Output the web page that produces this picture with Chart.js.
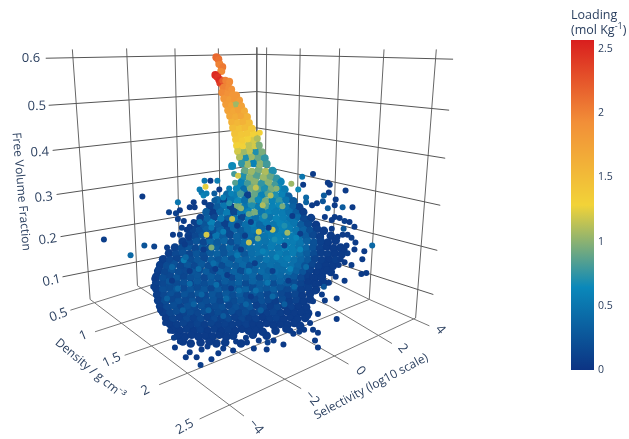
<!DOCTYPE html>
<html>
<head>
<meta charset="utf-8">
<style>
  html, body { margin:0; padding:0; background:#fff; width:629px; height:439px; overflow:hidden; }
  #scene { position:absolute; left:0; top:0; }
  #bar { position:absolute; left:571px; top:0; }
  #barTitle { position:absolute; left:571px; top:7px; font:12.5px/15px "Open Sans",sans-serif; color:#2a3f5f; white-space:nowrap; }
</style>
</head>
<body>
<canvas id="scene" width="629" height="439"></canvas>
<canvas id="bar" width="58" height="439"></canvas>
<div id="barTitle">Loading<br>(mol Kg<sup style="font-size:9px;line-height:0">-1</sup>)</div>
<script src="https://cdn.jsdelivr.net/npm/chart.js@4/dist/chart.umd.min.js"></script>
<script>
// the plot is a flat view of a 3D scene, so everything is read in picture-plane units
const fvfTicks = ['0.1','0.2','0.3','0.4','0.5','0.6'];
const densityTicks = ['0.5','1','1.5','2','2.5'];
const selectivityTicks = ['\u22124','\u22122','0','2','4'];
const loadingTicks = [0, 0.5, 1, 1.5, 2, 2.5];
const loadingMax = 2.57;

// [x, y, loading]
const tailPoints = [
[215,54,2.15],[217,56,2.1],[218,61,2.0],[221,64,2.05],[220,68,1.95],
[214,72,2.5],[216,74,2.45],[218,77,2.5],[219,80,2.4],[221,78,2.2],
[224,78,2.0],[228,79,1.95],[222,84,2.0],[227,85,1.95],[230,87,1.9],
[221,90,1.95],[226,91,1.9],[231,92,1.85],[235,93,1.85],
[223,96,1.85],[228,97,1.8],[233,97,1.85],[238,98,1.8],
[225,102,1.8],[230,103,1.75],[235,102,1.05],[240,104,1.75],
[227,108,1.75],[232,109,1.7],[237,108,1.75],[243,109,1.65],
[229,114,1.7],[234,115,1.65],[240,114,1.7],[246,115,1.6],
[231,120,1.6],[236,121,1.55],[242,120,1.6],[248,121,1.5],
[232,126,1.5],[238,127,1.45],[244,126,1.5],[251,127,1.4],
[234,132,1.45],[240,133,1.4],[246,132,1.4],[253,133,1.3],
[235,138,1.4],[241,139,1.35],[247,138,1.3],[253,139,1.2],[256,137,1.1],
[236,144,1.3],[242,145,1.3],[248,144,1.15],[254,145,1.2],[258,144,.95],
[237,150,1.2],[243,151,1.05],[249,150,1.15],[255,151,.7],[261,151,.95],
[239,156,1.1],[245,157,.7],[251,156,1.05],[257,157,.9],[264,157,.75],
[241,162,.75],[247,163,1.05],[253,162,.6],[259,163,1.0],[266,163,.8],[231,165,.65]
];

const strayPoints = [
[101,240,.08],[140,196,.06],[128,256,.4],[142,246,.25],[152,247,.12],[165,248,.08],
[176,202,.5],[167,212,.1],[174,213,.1],[178,210,.06],[176,219,.08],[182,221,.06],
[192,222,.08],[171,235,.06],[178,235,.08],[180,228,.1],[185,230,.06],[188,227,.06],
[187,238,.06],[183,245,.06],[192,202,.06],[188,207,.06],[193,207,.06],[203,202,.06],
[207,205,.1],[203,180,.5],[209,180,.06],[216,180,.55],[204,186,1.25],[198,189,.55],
[200,192,.5],[202,195,.6],[205,193,.55],[213,193,.3],[218,189,.06],[228,188,.55],
[230,193,.6],[213,200,.3],[222,197,.55],[233,173,.8],[237,175,1.2],[234,182,.85],
[259,131,1.3],[313,173,.06],[302,176,.5],[291,183,1.05],[303,184,.06],[298,189,.65],
[328,182,.06],[330,184,.06],[346,190,.06],[329,192,.06],[324,195,.3],[306,197,.4],
[306,202,.35],[336,199,.06],[323,201,.25],[317,203,.06],[312,205,.06],[335,205,.06],
[343,207,.3],[353,207,.06],[328,208,.3],[335,217,.06],[340,218,.06],[345,221,.1],
[350,222,.06],[355,227,.06],[325,217,.06],[332,220,.06],[344,229,.25],[332,229,.06],
[323,232,.06],[348,235,.06],[352,238,.08],[356,243,.06],[373,246,.4],[343,235,.06],
[338,237,.06],[347,246,.06],[365,252,.06],[355,250,.06],[348,254,.08],[363,260,.06],
[345,263,.06],[362,275,.06],[367,274,.06],[345,282,.06],[324,288,.25],[319,285,.06],
[315,293,.06],[325,302,.06],[337,300,.06],[337,321,.06],[318,335,.06],[315,343,.06],
[318,350,.06],[313,332,.06],[304,332,.06],[310,325,.06],[299,334,.06],[293,336,.06],
[283,347,.06],[273,343,.06],[266,352,.06],[253,351,.06],[267,345,.1],[258,343,.06],
[245,340,.06],[235,344,.06],[232,353,.06],[184,360,.06],[199,368,.08],[210,362,.06],
[217,356,.06],[195,360,.06],[188,355,.06],[200,352,.06],[173,350,.06],[172,340,.08],
[341,260,.06],[352,266,.06],[336,278,.06],[329,284,.06],[322,296,.06],[318,316,.06]
];

const upperBody = [
[244,170,.9],[251,171,1.05],[258,169,.95],[265,171,1.1],[272,170,.7],
[242,176,.7],[249,177,1.0],[256,175,.85],[263,177,1.05],[270,176,.9],[276,178,.75],
[240,182,.6],[247,183,.8],[254,181,1.0],[261,183,.75],[268,182,1.0],[275,184,.8],[280,181,.6],
[236,188,.65],[243,189,.45],[250,187,.95],[257,189,.85],[264,188,.7],[271,189,.95],[278,187,.65],[284,189,.55],
[226,194,.4],[233,195,.55],[240,193,.8],[247,195,.1],[254,194,.9],[261,195,.6],[268,193,.85],[275,195,.7],[282,194,.6],[288,196,.35],
[216,200,.4],[223,201,.1],[230,199,.5],[237,201,.65],[244,200,.45],[251,201,.9],[258,199,.65],[265,201,.95],[272,200,.6],[279,201,.75],[286,199,.5],[293,201,.3],
[209,206,.08],[216,207,.3],[223,205,.5],[230,207,.1],[237,206,.95],[244,207,.5],[251,205,.7],[258,207,.55],[265,206,.85],[272,207,.6],[279,205,.65],[286,207,.5],[293,206,.35],[299,207,.1],
[205,212,.3],[212,213,.06],[219,211,.4],[226,213,.55],[233,212,.15],[240,213,.5],[247,211,.6],[254,213,.95],[261,212,.5],[268,213,.6],[275,211,.55],[282,213,.55],[289,212,.45],[296,213,.3],[303,212,.08],
[199,218,.08],[206,219,.35],[213,217,.15],[220,219,.5],[227,218,.3],[234,219,.45],[241,217,.15],[248,219,.55],[255,218,.45],[262,219,.6],[269,217,.5],[276,219,.6],[283,218,.55],[290,219,.5],[297,217,.4],[304,219,.15],[311,218,.08],
[196,224,.1],[203,225,.25],[210,223,.6],[217,225,.3],[224,224,.1],[231,225,.4],[238,223,.3],[245,225,.45],[252,224,.55],[259,225,.4],[266,223,.55],[273,225,.5],[280,224,.6],[287,225,.55],[294,223,.5],[301,225,.3],[308,224,.15],[316,225,.06],
[191,230,.12],[198,231,.2],[205,229,.3],[212,231,.2],[219,230,.35],[226,231,.15],[233,229,.4],[240,231,.3],[247,230,.45],[254,231,.5],[261,229,.4],[268,231,.55],[275,230,.5],[282,231,.6],[289,229,.55],[296,231,.5],[303,230,.35],[310,231,.2],[317,229,.08],[324,231,.06],
[187,236,.08],[194,237,.15],[201,235,.25],[208,237,.12],[215,236,.5],[222,237,.3],[229,235,.15],[236,237,.35],[243,236,.3],[250,237,.45],[257,235,.4],[264,237,.5],[271,236,.55],[278,237,.6],[285,235,.55],[292,237,.55],[299,236,.45],[306,237,.3],[313,235,.15],[320,237,.08],[331,236,.06],
[181,242,.08],[188,243,.15],[195,241,.25],[202,243,.15],[209,242,.4],[216,243,.3],[223,241,.38],[230,243,.2],[237,242,.35],[244,243,.42],[251,241,.4],[258,243,.5],[265,242,.48],[272,243,.55],[279,241,.6],[286,243,.55],[293,242,.55],[300,243,.5],[307,241,.35],[314,243,.22],[321,242,.1],[328,243,.06],[336,241,.06]
];

const lowerBody = [
[173,248,.1],[180,249,.18],[187,247,.25],[194,249,.16],[201,248,.28],[208,249,.2],[215,247,.35],[222,249,.25],[229,248,.4],[236,249,.22],[243,247,.4],[250,249,.45],[257,248,.48],[264,249,.44],[271,247,.55],[278,249,.5],[285,248,.6],[292,249,.55],[299,247,.48],[306,249,.38],[313,248,.22],[320,249,.1],[327,247,.06],[334,249,.06],[341,248,.06],
[167,254,.08],[174,255,.16],[181,253,.22],[188,255,.14],[195,254,.26],[202,255,.18],[209,253,.3],[216,255,.35],[223,254,.24],[230,255,.36],[237,253,.4],[244,255,.28],[251,254,.44],[258,255,.48],[265,253,.52],[272,255,.48],[279,254,.55],[286,255,.5],[293,253,.55],[300,255,.42],[307,254,.32],[314,255,.18],[321,253,.08],[328,255,.08],[335,254,.06],[342,255,.06],
[161,260,.08],[168,261,.15],[175,259,.12],[182,261,.22],[189,260,.18],[196,261,.26],[203,259,.16],[210,261,.32],[217,260,.26],[224,261,.36],[231,259,.22],[238,261,.4],[245,260,.35],[252,261,.44],[259,259,.4],[266,261,.5],[273,260,.46],[280,261,.5],[287,259,.55],[294,261,.46],[301,260,.38],[308,261,.28],[315,259,.12],[322,261,.08],[329,260,.06],[336,261,.08],
[158,266,.08],[165,267,.18],[172,265,.22],[179,267,.14],[186,266,.25],[193,267,.16],[200,265,.28],[207,267,.2],[214,266,.34],[221,267,.18],[228,265,.35],[235,267,.3],[242,266,.4],[249,267,.22],[256,265,.42],[263,267,.4],[270,266,.46],[277,267,.42],[284,265,.5],[291,267,.46],[298,266,.38],[305,267,.24],[312,265,.14],[319,267,.08],[326,266,.06],[333,267,.06],
[156,272,.08],[163,273,.14],[170,271,.24],[177,273,.18],[184,272,.16],[191,273,.26],[198,271,.2],[205,273,.3],[212,272,.16],[219,273,.34],[226,271,.26],[233,273,.36],[240,272,.18],[247,273,.4],[254,271,.35],[261,273,.42],[268,272,.35],[275,273,.44],[282,271,.42],[289,273,.46],[296,272,.34],[303,273,.24],[310,271,.1],[317,273,.06],[324,272,.06],[331,273,.06],
[154,278,.08],[161,279,.2],[168,277,.16],[175,279,.25],[182,278,.14],[189,279,.22],[196,277,.26],[203,279,.16],[210,278,.3],[217,279,.24],[224,277,.34],[231,279,.16],[238,278,.35],[245,279,.3],[252,277,.38],[259,279,.2],[266,278,.4],[273,279,.34],[280,277,.4],[287,279,.34],[294,278,.28],[301,279,.16],[308,277,.08],[315,279,.06],[322,278,.06],
[154,284,.1],[161,285,.16],[168,283,.26],[175,285,.18],[182,284,.22],[189,285,.14],[196,283,.26],[203,285,.2],[210,284,.28],[217,285,.16],[224,283,.3],[231,285,.26],[238,284,.34],[245,285,.18],[252,283,.36],[259,285,.3],[266,284,.36],[273,285,.2],[280,283,.36],[287,285,.28],[294,284,.18],[301,285,.12],[308,283,.06],[315,285,.06],[324,284,.06],
[154,290,.08],[161,291,.2],[168,289,.18],[175,291,.26],[182,290,.16],[189,291,.24],[196,289,.18],[203,291,.26],[210,290,.14],[217,291,.28],[224,289,.2],[231,291,.3],[238,290,.26],[245,291,.34],[252,289,.18],[259,291,.3],[266,290,.25],[273,291,.32],[280,289,.24],[287,291,.16],[294,290,.22],[301,291,.08],[308,289,.08],[316,291,.06],
[155,296,.08],[162,297,.16],[169,295,.22],[176,297,.14],[183,296,.24],[190,297,.18],[197,295,.26],[204,297,.16],[211,296,.26],[218,297,.18],[225,295,.28],[232,297,.2],[239,296,.3],[246,297,.16],[253,295,.28],[260,297,.22],[267,296,.15],[274,297,.24],[281,295,.16],[288,297,.1],[295,296,.14],[302,297,.06],[310,295,.06],
[156,302,.08],[163,303,.18],[170,301,.14],[177,303,.22],[184,302,.16],[191,303,.24],[198,301,.14],[205,303,.2],[212,302,.24],[219,303,.14],[226,301,.26],[233,303,.18],[240,302,.26],[247,303,.2],[254,301,.14],[261,303,.22],[268,302,.16],[275,303,.08],[282,301,.18],[289,303,.08],[296,302,.12],[303,303,.06],[310,301,.06],
[158,308,.08],[165,309,.16],[172,307,.2],[179,309,.12],[186,308,.22],[193,309,.16],[200,307,.22],[207,309,.14],[214,308,.18],[221,309,.22],[228,307,.14],[235,309,.22],[242,308,.16],[249,309,.24],[256,307,.1],[263,309,.16],[270,308,.08],[277,309,.14],[284,307,.08],[291,309,.1],[298,308,.06],[306,309,.06],
[161,314,.08],[168,315,.14],[175,313,.18],[182,315,.12],[189,314,.18],[196,315,.14],[203,313,.2],[210,315,.12],[217,314,.18],[224,315,.14],[231,313,.2],[238,315,.12],[245,314,.18],[252,315,.12],[259,313,.16],[266,315,.08],[273,314,.12],[280,315,.08],[287,313,.06],[294,315,.06],[301,314,.06],[308,315,.06],
[164,320,.06],[171,321,.12],[178,319,.1],[185,321,.16],[192,320,.1],[199,321,.16],[206,319,.1],[213,321,.16],[220,320,.1],[227,321,.15],[234,319,.1],[241,321,.14],[248,320,.08],[255,321,.1],[262,319,.06],[269,321,.08],[276,320,.1],[283,321,.06],[290,319,.06],[297,321,.06],[305,320,.06],
[168,326,.06],[175,327,.08],[182,325,.12],[189,327,.08],[196,326,.12],[203,327,.08],[210,325,.12],[217,327,.08],[224,326,.1],[231,327,.08],[238,325,.08],[245,327,.1],[252,326,.06],[259,327,.06],[266,325,.06],[273,327,.06],[280,326,.06],[287,327,.06],[294,325,.06],[300,328,.06],
[171,332,.06],[178,333,.06],[185,331,.08],[192,333,.06],[199,332,.1],[206,333,.06],[213,331,.08],[220,333,.06],[227,332,.08],[234,333,.06],[241,331,.06],[248,333,.06],[255,332,.06],[262,334,.06],[275,333,.06],[286,331,.06],
[176,338,.06],[183,339,.06],[190,337,.06],[197,339,.06],[204,338,.06],[211,339,.06],[218,337,.06],[225,339,.06],[232,338,.06],[252,337,.06],[266,338,.06],
[181,344,.06],[189,346,.06],[199,345,.06],[208,344,.06],[215,346,.06],[224,345,.06],[240,346,.06]
];

// lighter and darker markers scattered on top of the body
const speckPoints = [
[205,235,1.2],[210,248,.95],[231,219,1.15],[258,232,1.2],[248,243,1.15],[287,233,1.05],[272,230,1.15],[257,239,.95],[182,261,.55],
[240,208,1.0],[262,205,1.1],[248,214,.9],[270,195,1.1],[255,187,1.15],[282,206,.95],[228,203,.7],[264,216,.8],[276,188,1.0],
[198,222,.45],[210,228,.5],[222,232,.55],[236,226,.06],[250,222,.06],[268,228,.06],[292,216,.06],[300,234,.08],[284,246,.1],
[170,268,.36],[184,258,.4],[197,270,.42],[176,290,.38],[165,300,.34],[188,285,.42],[200,296,.38],[181,312,.32],[212,264,.44],
[192,306,.35],[215,286,.44],[225,300,.4],[207,312,.34],[238,292,.42],[222,318,.3],[245,306,.36],[255,292,.44],[236,256,.52],
[260,312,.32],[272,298,.4],[284,306,.32],[294,288,.4],[267,284,.5],[248,272,.52],[290,270,.58],[276,258,.65],[262,252,.6],
[300,250,.62],[284,226,.7],[296,238,.62],[274,240,.68],[306,268,.42],[312,278,.06],[254,264,.08],[240,250,.08],[226,276,.06],
[202,250,.06],[214,270,.06],[188,272,.05],[170,282,.05],[230,290,.06],[250,298,.06],[272,272,.1],[288,282,.06],[244,236,.08],
[156,270,.1],[152,280,.06],[151,288,.08],[158,312,.06],[163,325,.06],[168,333,.06],[178,344,.06],[206,349,.06],[222,351,.06],
[246,345,.06],[290,333,.06],[308,318,.06],[313,303,.06],[321,280,.06],[327,270,.06],[339,266,.06],[345,250,.06]
];

// wall and floor rulings, as [x, y] vertices in the picture plane
const fvfRules = [
[[42,55],[256,51],[455,56]],[[45,103],[256,89],[451,108]],[[49,149],[256,126],[447,157]],
[[53,194],[256,164],[442,205]],[[57,237],[256,203],[439,251]],[[59,278],[256,238],[435,296]]
];
const wallVerticals = [
[[69,46],[87,301]],[[124,45],[135,287]],[[173,45],[178,273]],[[217,45],[219,258]],[[256,44],[256,245]],
[[266,44],[264,250]],[[300,45],[296,268]],[[340,45],[332,285]],[[385,46],[370,301]],[[438,46],[417,320]]
];
const densityRules = [
[[67,312],[264,250]],[[92,334],[296,268]],[[122,358],[332,285]],[[157,388],[370,301]],[[198,423],[417,320]]
];
const selectivityRules = [
[[87,301],[243,420]],[[135,287],[230,351],[301,392]],[[178,273],[290,333],[349,367]],
[[219,258],[330,308],[393,346]],[[256,245],[370,301],[431,328]]
];

// tick label anchors and angles, same order as the tick arrays
const fvfLabelPos = [[48,282,-12],[44,240,-8],[40,197,-5],[36,151,-3],[33,104,-2],[27,55,0]];
const densityLabelPos = [[55,317,-20],[80,338,-22],[109,363,-25],[143,394,-27],[183,431,-28]];
const selectivityLabelPos = [[255,431,50],[312,402,50],[361,374,50],[404,351,50],[442,332,50]];
const axisTitles = [
    ['Free Volume Fraction', 17, 191, 85],
    ['Density / g cm\u207B\u00B3', 87, 372, 40],
    ['Selectivity (log10 scale)', 372, 390, -28]
];

// plotly Portland colorscale
const portland = [[0,[12,51,131]],[.25,[10,136,186]],[.5,[242,211,56]],[.75,[242,143,56]],[1,[217,30,30]]];
function loadingColor(v) {
    const t = Math.min(v / loadingMax, 1);
    for (let i = 1; i < portland.length; i++) {
        if (t <= portland[i][0]) {
            const [t0, c0] = portland[i-1], [t1, c1] = portland[i];
            const k = (t - t0) / (t1 - t0);
            return `rgb(${c0.map((c, j) => Math.round(c + (c1[j] - c) * k)).join(',')})`;
        }
    }
    return 'rgb(217,30,30)';
}

function ruleSet(rules, color, order) {
    return rules.map(r => ({
        data: r.map(p => ({x: p[0], y: p[1]})),
        showLine: true, pointRadius: 0, borderColor: color, borderWidth: 1, order
    }));
}
function markerSet(points, radius, order) {
    return {
        data: points.map(p => ({x: p[0], y: p[1]})),
        pointRadius: radius, pointBorderWidth: 0,
        pointBackgroundColor: points.map(p => loadingColor(p[2])), order
    };
}

// tick labels and axis titles sit at angles the cartesian axes can't give
const sceneText = {
    id: 'sceneText',
    afterDatasetsDraw(chart) {
        const {ctx, scales} = chart;
        const put = (txt, x, y, deg, size) => {
            ctx.save();
            ctx.translate(scales.x.getPixelForValue(x), scales.y.getPixelForValue(y));
            ctx.rotate(deg * Math.PI / 180);
            ctx.font = `${size}px "Open Sans"`;
            ctx.fillStyle = '#2a3f5f';
            ctx.textAlign = 'center';
            ctx.textBaseline = 'middle';
            ctx.fillText(txt, 0, 0);
            ctx.restore();
        };
        fvfTicks.forEach((t, i) => put(t, ...fvfLabelPos[i], 13));
        densityTicks.forEach((t, i) => put(t, ...densityLabelPos[i], 13));
        selectivityTicks.forEach((t, i) => put(t, ...selectivityLabelPos[i], 13));
        axisTitles.forEach(t => put(t[0], t[1], t[2], t[3], 12));
    }
};

new Chart(document.getElementById('scene'), {
    type: 'scatter',
    data: { datasets: [
        ...ruleSet(fvfRules, '#555', 12),
        ...ruleSet(wallVerticals, '#666', 12),
        ...ruleSet(densityRules, '#777', 12),
        ...ruleSet(selectivityRules, '#777', 12),
        // wider copy underneath closes the gaps left by the thousands of markers not listed
        markerSet(lowerBody, 4.3, 8),
        markerSet(upperBody, 4.3, 8),
        markerSet(lowerBody, 3, 7),
        markerSet(upperBody, 3, 6),
        markerSet(tailPoints, 4, 4),
        markerSet(tailPoints, 3, 3),
        markerSet(speckPoints, 3, 2),
        markerSet(strayPoints, 3, 2)
    ]},
    options: {
        responsive: false, animation: false, events: [],
        layout: { padding: 0 },
        plugins: { legend: {display: false}, tooltip: {enabled: false} },
        scales: {
            x: { type: 'linear', min: 0, max: 629, display: false },
            y: { type: 'linear', min: 0, max: 439, reverse: true, display: false }
        }
    },
    plugins: [sceneText]
});

// colorbar
new Chart(document.getElementById('bar'), {
    type: 'bar',
    data: { labels: ['loading'], datasets: [{
        data: [[0, loadingMax]],
        categoryPercentage: 1, barPercentage: 1,
        backgroundColor(c) {
            const area = c.chart.chartArea;
            if (!area) return '#888';
            const g = c.chart.ctx.createLinearGradient(0, area.bottom, 0, area.top);
            portland.forEach(s => g.addColorStop(s[0], loadingColor(s[0] * loadingMax)));
            return g;
        }
    }]},
    options: {
        responsive: false, animation: false, events: [],
        layout: { padding: {top: 40, bottom: 69, left: 0, right: 0} },
        plugins: { legend: {display: false}, tooltip: {enabled: false} },
        scales: {
            x: { display: false },
            y: {
                position: 'right', min: 0, max: loadingMax,
                grid: {display: false, drawTicks: false}, border: {display: false},
                afterBuildTicks(s) { s.ticks = loadingTicks.map(v => ({value: v})); },
                afterFit(s) { s.width = 35; },
                ticks: { color: '#2a3f5f', padding: 4, font: {family: '"Open Sans"', size: 10.5}, callback: v => String(v) }
            }
        }
    }
});
</script>
</body>
</html>
